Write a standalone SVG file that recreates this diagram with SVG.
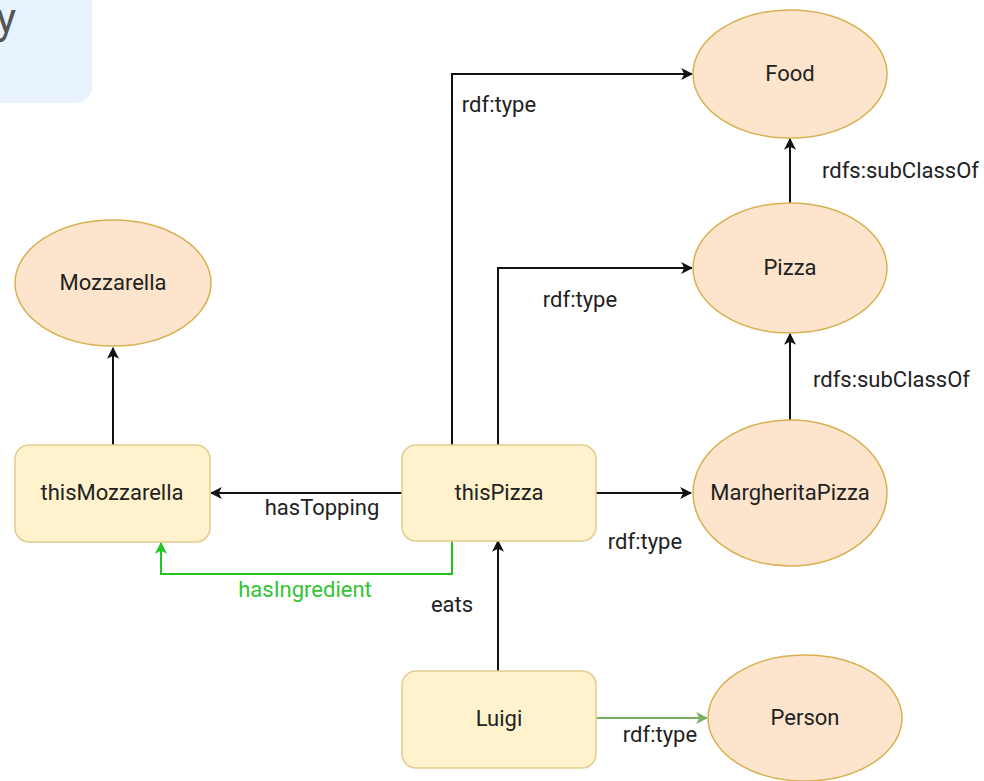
<svg xmlns="http://www.w3.org/2000/svg" width="984" height="781" viewBox="0 0 984 781">
<style>
text{font-family:Roboto,"Liberation Sans",sans-serif;font-size:22px;fill:#222;}
.n{text-anchor:middle;}
.rect{fill:#fff2cc;stroke:#e2cd8f;stroke-width:1.5;}
.ell{fill:#fde4cc;stroke:#d8b050;stroke-width:1.5;}
.e{fill:none;stroke:#111;stroke-width:2;}
.g{fill:none;stroke:#22c422;stroke-width:2;}
.lg{fill:none;stroke:#76b062;stroke-width:2;}
.lbl{text-anchor:middle;}
</style>
<defs>
<marker id="ab" viewBox="0 0 10 10" refX="9" refY="5" markerWidth="6" markerHeight="6" markerUnits="strokeWidth" orient="auto"><path d="M0,0 L10,5 L0,10 L2.5,5 Z" fill="#111"/></marker>
<marker id="ag" viewBox="0 0 10 10" refX="9" refY="5" markerWidth="6" markerHeight="6" markerUnits="strokeWidth" orient="auto"><path d="M0,0 L10,5 L0,10 L2.5,5 Z" fill="#22c422"/></marker>
<marker id="alg" viewBox="0 0 10 10" refX="9" refY="5" markerWidth="6" markerHeight="6" markerUnits="strokeWidth" orient="auto"><path d="M0,0 L10,5 L0,10 L2.5,5 Z" fill="#76b062"/></marker>
</defs>
<rect x="0" y="0" width="984" height="781" fill="#fff"/>
<g id="corner">
<rect x="-20" y="-20" width="112" height="123" rx="16" fill="#e8f3fd"/>
<text x="16" y="33" font-size="42" style="font-size:42px;fill:#555;text-anchor:end">y</text>
</g>
<g id="edges">
<path class="e" d="M452,445 V74 H692" marker-end="url(#ab)"/>
<path class="e" d="M498,445 V268 H692" marker-end="url(#ab)"/>
<path class="e" d="M596,493 H691" marker-end="url(#ab)"/>
<path class="e" d="M790,203 V139" marker-end="url(#ab)"/>
<path class="e" d="M790,420 V334" marker-end="url(#ab)"/>
<path class="e" d="M402,493 H211" marker-end="url(#ab)"/>
<path class="e" d="M113,445 V348" marker-end="url(#ab)"/>
<path class="e" d="M498,671 V541" marker-end="url(#ab)"/>
<path class="g" d="M452,541 V574 H161 V543" marker-end="url(#ag)"/>
<path class="lg" d="M596,718 H707" marker-end="url(#alg)"/>
<text class="lbl" x="499" y="112">rdf:type</text>
<text class="lbl" x="580" y="307">rdf:type</text>
<text class="lbl" x="645" y="549">rdf:type</text>
<text class="lbl" x="660" y="742">rdf:type</text>
<text x="822" y="178">rdfs:subClassOf</text>
<text x="813" y="387">rdfs:subClassOf</text>
<text class="lbl" x="322" y="515">hasTopping</text>
<text class="lbl" x="305" y="597" style="fill:#33c433">hasIngredient</text>
<text class="lbl" x="452" y="612">eats</text>
</g>
<g id="Food"><ellipse class="ell" cx="790" cy="74" rx="97" ry="64"/><text class="n" x="790" y="81">Food</text></g>
<g id="Pizza"><ellipse class="ell" cx="790" cy="268" rx="97" ry="65"/><text class="n" x="790" y="275">Pizza</text></g>
<g id="MargheritaPizza"><ellipse class="ell" cx="790" cy="493" rx="97" ry="73"/><text class="n" x="790" y="500">MargheritaPizza</text></g>
<g id="Person"><ellipse class="ell" cx="805" cy="718" rx="97" ry="63"/><text class="n" x="805" y="725">Person</text></g>
<g id="Mozzarella"><ellipse class="ell" cx="113" cy="283" rx="98" ry="63"/><text class="n" x="113" y="290">Mozzarella</text></g>
<g id="thisMozzarella"><rect class="rect" x="15" y="445" width="195" height="97" rx="14"/><text class="n" x="112" y="500">thisMozzarella</text></g>
<g id="thisPizza"><rect class="rect" x="402" y="445" width="194" height="96" rx="14"/><text class="n" x="499" y="500">thisPizza</text></g>
<g id="Luigi"><rect class="rect" x="402" y="671" width="194" height="97" rx="14"/><text class="n" x="499" y="726">Luigi</text></g>
</svg>
